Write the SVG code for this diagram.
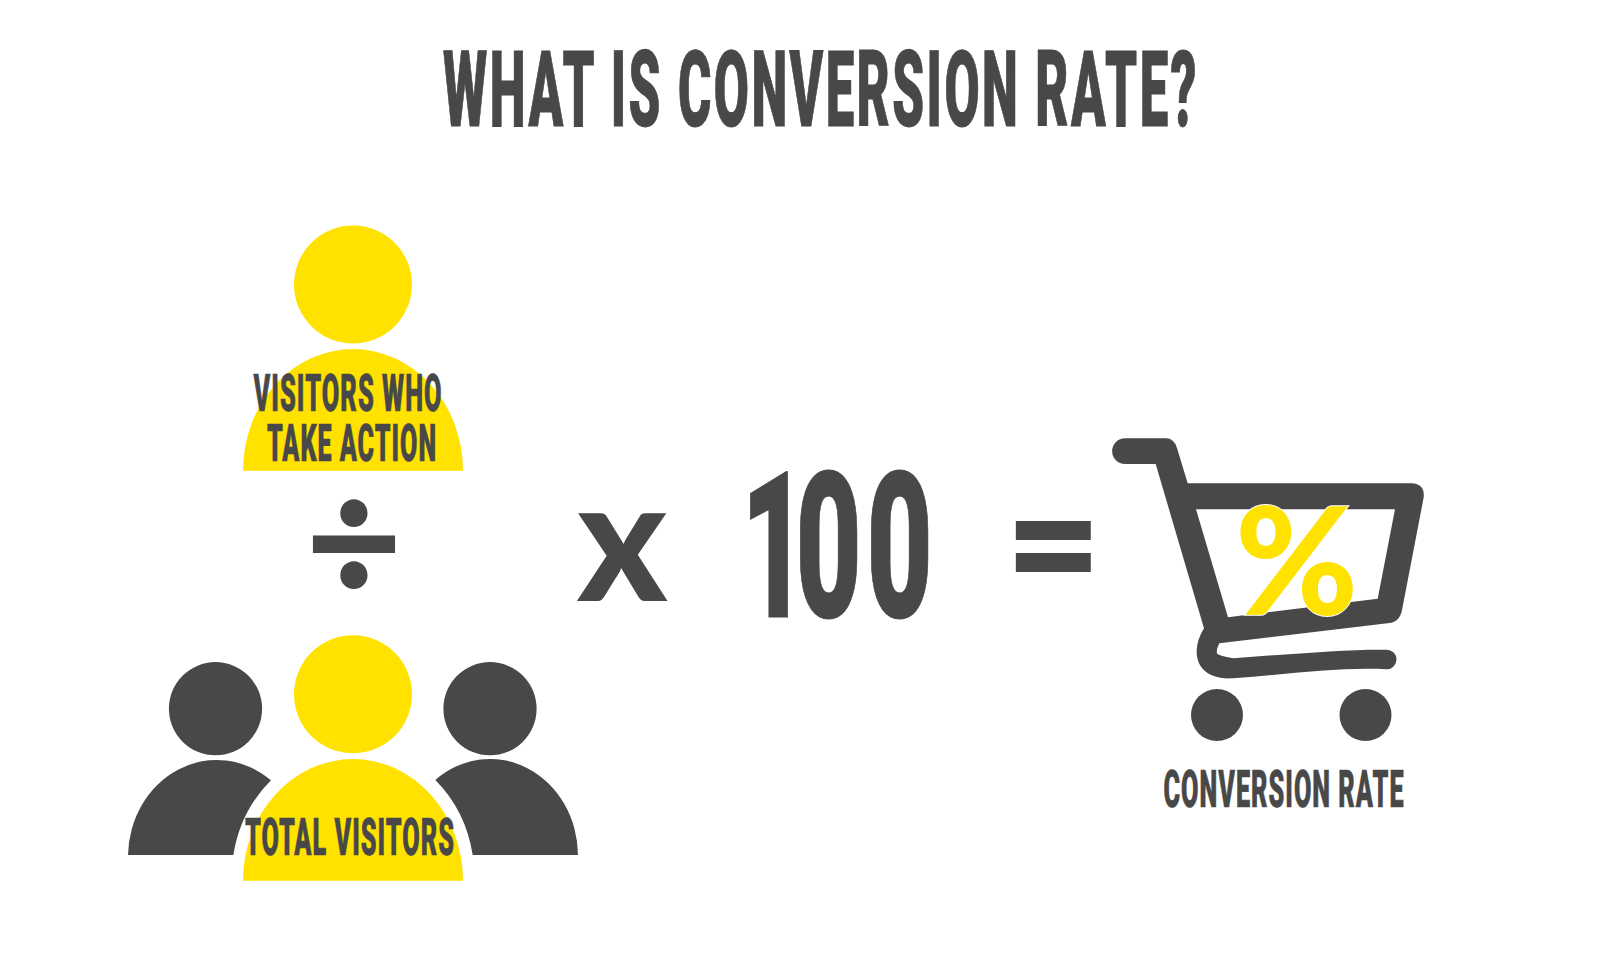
<svg xmlns="http://www.w3.org/2000/svg" width="1600" height="980" viewBox="0 0 1600 980">
<style>
.d{fill:#484848}
.y{fill:#FFE200}
text{font-family:Roboto,"Liberation Sans",sans-serif;font-weight:900;fill:#484848;stroke:#484848;stroke-linejoin:miter}
.lab{font-size:51px;stroke-width:.6px;letter-spacing:2px}
.sym{stroke:none}
</style>
<rect width="1600" height="980" fill="#fff"/>
<g id="title"><text x="443" y="125.8" font-size="106" stroke-width="1" letter-spacing="5" textLength="756" lengthAdjust="spacingAndGlyphs">WHAT IS CONVERSION RATE?</text></g>
<g id="visitors-who-take-action">
<circle class="y" cx="353" cy="284.5" r="59"/>
<path class="y" d="M243,470.7A110,121.7 0 0 1 463,470.7Z"/>
<text class="lab" x="253.5" y="410.8" textLength="189" lengthAdjust="spacingAndGlyphs">VISITORS WHO</text>
<text class="lab" x="267" y="460.5" textLength="170" lengthAdjust="spacingAndGlyphs">TAKE ACTION</text>
</g>
<g id="divide"><text class="sym" x="305.5" y="603.4" font-size="174" style="font-family:Lato,sans-serif" textLength="97" lengthAdjust="spacingAndGlyphs">÷</text></g>
<g id="total-visitors">
<circle class="d" cx="215.5" cy="708.7" r="46.6"/>
<path class="d" d="M128,855A88.7,97 0 0 1 271,780.3A120,132 0 0 0 233.3,855Z"/>
<circle class="d" cx="490" cy="708.7" r="46.6"/>
<path class="d" d="M578,855A88,97 0 0 0 435.3,780A120,132 0 0 1 472.7,855Z"/>
<circle class="y" cx="353" cy="694.3" r="59"/>
<path class="y" d="M243,880.7A110,121.7 0 0 1 463,880.7Z"/>
<text class="lab" x="245" y="855.2" textLength="210" lengthAdjust="spacingAndGlyphs">TOTAL VISITORS</text>
</g>
<g id="times"><text class="sym" x="577" y="601" font-size="170" style="font-family:Lato,sans-serif">x</text></g>
<g id="hundred"><text transform="scale(.56,1)" x="1323.2 1420.7 1547.5" y="617" font-size="204" stroke-width="1">100</text></g>
<g id="equals"><text class="sym" x="1005.5" y="593" font-size="150" textLength="97" lengthAdjust="spacingAndGlyphs">=</text></g>
<g id="cart">
<path class="d" fill-rule="evenodd" d="M1125,438.3L1166,438.3Q1174,438.3 1177,448L1187.7,483.3L1411.7,483.3Q1425,484 1423.7,497.3L1401.7,611.7Q1399,621 1391.7,622.7L1219.3,643.3Q1216,650 1217,653.3Q1218,656 1233.3,658.3C1290,654 1350,649 1386.7,649.7A9.8,9.8 0 0 1 1386.7,669.3C1340,667 1290,674 1233.3,678.3C1205,680 1196,665 1196.7,650Q1197,640 1204,628.3L1155.7,464L1125,464A12.85,12.85 0 0 1 1125,438.3ZM1196,509.3L1395,509.3L1377.7,598.7L1228,617.3Z"/>
<circle class="d" cx="1217" cy="715" r="26"/>
<circle class="d" cx="1365.5" cy="715" r="26"/>
<text x="1235" y="614.5" font-size="149" style="font-family:Lato,sans-serif;fill:#FFE200;stroke:#fff;stroke-width:2px;paint-order:stroke">%</text>
<text class="lab" x="1163.5" y="807.2" textLength="241" lengthAdjust="spacingAndGlyphs">CONVERSION RATE</text>
</g>
</svg>
